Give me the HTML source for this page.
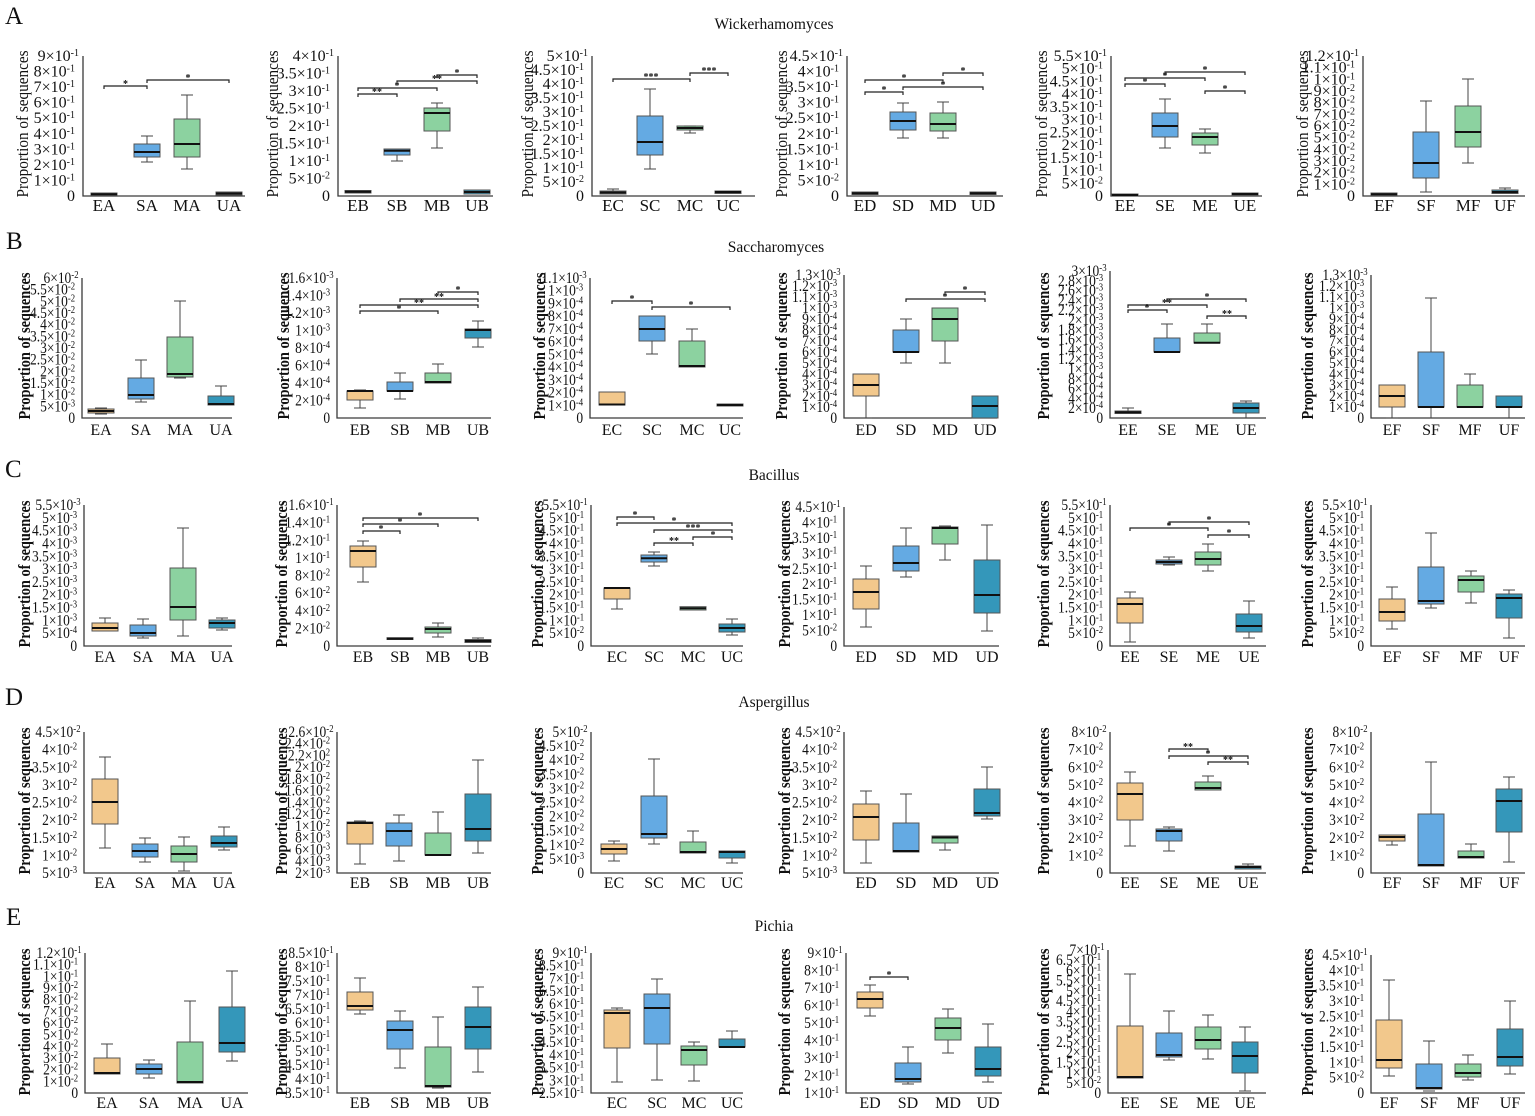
<!DOCTYPE html>
<html><head><meta charset="utf-8"><style>
html,body{margin:0;padding:0;background:#fff;}
svg{display:block;}
text{font-family:"Liberation Serif",serif;fill:#111;}
.tk{font-size:16px;text-anchor:end;}
g[transform*="scale"] .tk{font-size:15.5px;}
.e{font-size:10px;}
.cl{font-size:17px;text-anchor:middle;}
.cl2{font-size:16px;text-anchor:middle;}
.yl{font-size:17px;text-anchor:middle;}
.yb{font-size:16.5px;font-weight:bold;text-anchor:middle;}
.ttl{font-size:15.5px;text-anchor:middle;}
.lt{font-size:25px;}
.ax{fill:none;stroke:#3a3a3a;stroke-width:1.3;}
.wh{fill:none;stroke:#444;stroke-width:1;}
.md{fill:none;stroke:#111;stroke-width:2;}
.br{fill:none;stroke:#222;stroke-width:1.2;}
.st{font-size:10px;font-weight:bold;text-anchor:middle;}
.bE{fill:#F2C88C;stroke:#555;stroke-width:1;}
.bS{fill:#64AAE3;stroke:#555;stroke-width:1;}
.bM{fill:#8CD2A0;stroke:#555;stroke-width:1;}
.bU{fill:#3497BA;stroke:#555;stroke-width:1;}
</style></head><body>
<svg width="1535" height="1116" viewBox="0 0 1535 1116" xmlns="http://www.w3.org/2000/svg">
<rect width="1535" height="1116" fill="#fff"/>

<!-- Row letters and titles -->
<text class="lt" x="5" y="24">A</text>
<text class="lt" x="6" y="249">B</text>
<text class="lt" x="5" y="477">C</text>
<text class="lt" x="5" y="705">D</text>
<text class="lt" x="6" y="925">E</text>
<text class="ttl" x="774" y="29">Wickerhamomyces</text>
<text class="ttl" x="776" y="252">Saccharomyces</text>
<text class="ttl" x="774" y="480">Bacillus</text>
<text class="ttl" x="774" y="707">Aspergillus</text>
<text class="ttl" x="774" y="931">Pichia</text>

<!-- ================= ROW A ================= -->
<text class="yl" transform="translate(28,124) rotate(-90)" textLength="147" lengthAdjust="spacingAndGlyphs">Proportion of sequences</text>
<text class="yl" transform="translate(278,124) rotate(-90)" textLength="147" lengthAdjust="spacingAndGlyphs">Proportion of sequences</text>
<text class="yl" transform="translate(533,124) rotate(-90)" textLength="147" lengthAdjust="spacingAndGlyphs">Proportion of sequences</text>
<text class="yl" transform="translate(787,124) rotate(-90)" textLength="147" lengthAdjust="spacingAndGlyphs">Proportion of sequences</text>
<text class="yl" transform="translate(1047,124) rotate(-90)" textLength="147" lengthAdjust="spacingAndGlyphs">Proportion of sequences</text>
<text class="yl" transform="translate(1308,124) rotate(-90)" textLength="147" lengthAdjust="spacingAndGlyphs">Proportion of sequences</text>

<!-- A1 -->
<g transform="translate(83,0)"><text class="tk">
<tspan x="-4" y="201">0</tspan>
<tspan x="-4" y="185.4">1×10</tspan><tspan class="e" dy="-5">-1</tspan>
<tspan x="-4" y="169.9">2×10</tspan><tspan class="e" dy="-5">-1</tspan>
<tspan x="-4" y="154.3">3×10</tspan><tspan class="e" dy="-5">-1</tspan>
<tspan x="-4" y="138.8">4×10</tspan><tspan class="e" dy="-5">-1</tspan>
<tspan x="-4" y="123.2">5×10</tspan><tspan class="e" dy="-5">-1</tspan>
<tspan x="-4" y="107.7">6×10</tspan><tspan class="e" dy="-5">-1</tspan>
<tspan x="-4" y="92.1">7×10</tspan><tspan class="e" dy="-5">-1</tspan>
<tspan x="-4" y="76.6">8×10</tspan><tspan class="e" dy="-5">-1</tspan>
<tspan x="-4" y="61">9×10</tspan><tspan class="e" dy="-5">-1</tspan>
</text></g>
<path class="ax" d="M83,56V196H245"/>
<rect class="bE" x="91" y="193" width="26" height="2.5"/>
<rect class="bS" x="134" y="144" width="26" height="13"/>
<rect class="bM" x="174" y="119" width="26" height="38"/>
<rect class="bU" x="216" y="192" width="26" height="3"/>
<path class="wh" d="M147,136V144M147,157V162M141,136H153M141,162H153M187,95V119M187,157V169M181,95H193M181,169H193"/>
<path class="md" d="M91,194.3H117M134,152H160M174,144H200M216,193.5H242"/>
<path class="br" d="M104,89V86H147V89M147,83V80H229V83"/>
<text class="st" x="125.5" y="87">*</text><text class="st" x="188" y="81">*</text>
<text class="cl" x="104" y="211">EA</text><text class="cl" x="147" y="211">SA</text><text class="cl" x="187" y="211">MA</text><text class="cl" x="229" y="211">UA</text>

<!-- A2 -->
<g transform="translate(338,0)"><text class="tk">
<tspan x="-4" y="201">0</tspan>
<tspan x="-4" y="183.5">5×10</tspan><tspan class="e" dy="-5">-2</tspan>
<tspan x="-4" y="166">1×10</tspan><tspan class="e" dy="-5">-1</tspan>
<tspan x="-4" y="148.5">1.5×10</tspan><tspan class="e" dy="-5">-1</tspan>
<tspan x="-4" y="131">2×10</tspan><tspan class="e" dy="-5">-1</tspan>
<tspan x="-4" y="113.5">2.5×10</tspan><tspan class="e" dy="-5">-1</tspan>
<tspan x="-4" y="96">3×10</tspan><tspan class="e" dy="-5">-1</tspan>
<tspan x="-4" y="78.5">3.5×10</tspan><tspan class="e" dy="-5">-1</tspan>
<tspan x="-4" y="61">4×10</tspan><tspan class="e" dy="-5">-1</tspan>
</text></g>
<path class="ax" d="M338,56V196H493"/>
<rect class="bE" x="345" y="190.5" width="26" height="2.5"/>
<rect class="bS" x="384" y="149" width="26" height="6"/>
<rect class="bM" x="424" y="108" width="26" height="23"/>
<rect class="bU" x="464" y="190" width="26" height="4"/>
<path class="wh" d="M397,155V161M391,161H403M437,103V108M437,131V148M431,103H443M431,148H443"/>
<path class="md" d="M345,191.7H371M384,150.7H410M424,113H450M464,192H490"/>
<path class="br" d="M358,97V94H397V97M358,91V88H437V91M397,84V81H477V84M437,78V75H477V78"/>
<text class="st" x="377" y="95">**</text><text class="st" x="397" y="89">*</text><text class="st" x="437" y="82">**</text><text class="st" x="457" y="76">*</text>
<text class="cl" x="358" y="211">EB</text><text class="cl" x="397" y="211">SB</text><text class="cl" x="437" y="211">MB</text><text class="cl" x="477" y="211">UB</text>

<!-- A3 -->
<g transform="translate(592,0)"><text class="tk">
<tspan x="-4" y="201">0</tspan>
<tspan x="-4" y="187">5×10</tspan><tspan class="e" dy="-5">-2</tspan>
<tspan x="-4" y="173">1×10</tspan><tspan class="e" dy="-5">-1</tspan>
<tspan x="-4" y="159">1.5×10</tspan><tspan class="e" dy="-5">-1</tspan>
<tspan x="-4" y="145">2×10</tspan><tspan class="e" dy="-5">-1</tspan>
<tspan x="-4" y="131">2.5×10</tspan><tspan class="e" dy="-5">-1</tspan>
<tspan x="-4" y="117">3×10</tspan><tspan class="e" dy="-5">-1</tspan>
<tspan x="-4" y="103">3.5×10</tspan><tspan class="e" dy="-5">-1</tspan>
<tspan x="-4" y="89">4×10</tspan><tspan class="e" dy="-5">-1</tspan>
<tspan x="-4" y="75">4.5×10</tspan><tspan class="e" dy="-5">-1</tspan>
<tspan x="-4" y="61">5×10</tspan><tspan class="e" dy="-5">-1</tspan>
</text></g>
<path class="ax" d="M592,56V196H755"/>
<rect class="bE" x="600" y="191" width="26" height="3"/>
<rect class="bS" x="637" y="116" width="26" height="39"/>
<rect class="bM" x="677" y="126" width="26" height="4"/>
<rect class="bU" x="715" y="191" width="26" height="2.5"/>
<path class="wh" d="M613,189V191M607,189H619M650,89V116M650,155V169M644,89H656M644,169H656M690,130V133M684,133H696M684,126H696"/>
<path class="md" d="M600,192.5H626M637,142H663M677,128H703M715,192H741"/>
<path class="br" d="M613,82V79H690V82M690,76V73H728V76"/>
<text class="st" x="651" y="80">***</text><text class="st" x="709" y="74">***</text>
<text class="cl" x="613" y="211">EC</text><text class="cl" x="650" y="211">SC</text><text class="cl" x="690" y="211">MC</text><text class="cl" x="728" y="211">UC</text>

<!-- A4 -->
<g transform="translate(847,0)"><text class="tk">
<tspan x="-4" y="201">0</tspan>
<tspan x="-4" y="185.4">5×10</tspan><tspan class="e" dy="-5">-2</tspan>
<tspan x="-4" y="169.9">1×10</tspan><tspan class="e" dy="-5">-1</tspan>
<tspan x="-4" y="154.3">1.5×10</tspan><tspan class="e" dy="-5">-1</tspan>
<tspan x="-4" y="138.8">2×10</tspan><tspan class="e" dy="-5">-1</tspan>
<tspan x="-4" y="123.2">2.5×10</tspan><tspan class="e" dy="-5">-1</tspan>
<tspan x="-4" y="107.7">3×10</tspan><tspan class="e" dy="-5">-1</tspan>
<tspan x="-4" y="92.1">3.5×10</tspan><tspan class="e" dy="-5">-1</tspan>
<tspan x="-4" y="76.6">4×10</tspan><tspan class="e" dy="-5">-1</tspan>
<tspan x="-4" y="61">4.5×10</tspan><tspan class="e" dy="-5">-1</tspan>
</text></g>
<path class="ax" d="M847,56V196H1003"/>
<rect class="bE" x="852" y="192" width="26" height="2.5"/>
<rect class="bS" x="890" y="112" width="26" height="18"/>
<rect class="bM" x="930" y="113" width="26" height="18"/>
<rect class="bU" x="970" y="192" width="26" height="2.5"/>
<path class="wh" d="M903,103V112M903,130V138M897,103H909M897,138H909M943,102V113M943,131V138M937,102H949M937,138H949"/>
<path class="md" d="M852,193.3H878M890,121H916M930,124H956M970,193.3H996"/>
<path class="br" d="M865,95V92H903V95M865,83V80H943V83M903,90V87H983V90M943,76V73H983V76"/>
<text class="st" x="884" y="93">*</text><text class="st" x="904" y="81">*</text><text class="st" x="943" y="88">*</text><text class="st" x="963" y="74">*</text>
<text class="cl" x="865" y="211">ED</text><text class="cl" x="903" y="211">SD</text><text class="cl" x="943" y="211">MD</text><text class="cl" x="983" y="211">UD</text>

<!-- A5 -->
<g transform="translate(1111,0)"><text class="tk">
<tspan x="-4" y="201">0</tspan>
<tspan x="-4" y="188.3">5×10</tspan><tspan class="e" dy="-5">-2</tspan>
<tspan x="-4" y="175.5">1×10</tspan><tspan class="e" dy="-5">-1</tspan>
<tspan x="-4" y="162.8">1.5×10</tspan><tspan class="e" dy="-5">-1</tspan>
<tspan x="-4" y="150.1">2×10</tspan><tspan class="e" dy="-5">-1</tspan>
<tspan x="-4" y="137.4">2.5×10</tspan><tspan class="e" dy="-5">-1</tspan>
<tspan x="-4" y="124.6">3×10</tspan><tspan class="e" dy="-5">-1</tspan>
<tspan x="-4" y="111.9">3.5×10</tspan><tspan class="e" dy="-5">-1</tspan>
<tspan x="-4" y="99.2">4×10</tspan><tspan class="e" dy="-5">-1</tspan>
<tspan x="-4" y="86.5">4.5×10</tspan><tspan class="e" dy="-5">-1</tspan>
<tspan x="-4" y="73.7">5×10</tspan><tspan class="e" dy="-5">-1</tspan>
<tspan x="-4" y="61">5.5×10</tspan><tspan class="e" dy="-5">-1</tspan>
</text></g>
<path class="ax" d="M1111,56V196H1262"/>
<rect class="bE" x="1112" y="194" width="26" height="2"/>
<rect class="bS" x="1152" y="113" width="26" height="24"/>
<rect class="bM" x="1192" y="133" width="26" height="12"/>
<rect class="bU" x="1232" y="193" width="26" height="2.5"/>
<path class="wh" d="M1165,99V113M1165,137V148M1159,99H1171M1159,148H1171M1205,129V133M1205,145V153M1199,129H1211M1199,153H1211"/>
<path class="md" d="M1112,195H1138M1152,126H1178M1192,137H1218M1232,194H1258"/>
<path class="br" d="M1125,87V84H1165V87M1125,81V78H1205V81M1165,75V72H1245V75M1205,94V91H1245V94"/>
<text class="st" x="1145" y="85">*</text><text class="st" x="1165" y="79">*</text><text class="st" x="1205" y="73">*</text><text class="st" x="1225" y="92">*</text>
<text class="cl" x="1125" y="211">EE</text><text class="cl" x="1165" y="211">SE</text><text class="cl" x="1205" y="211">ME</text><text class="cl" x="1245" y="211">UE</text>

<!-- A6 -->
<g transform="translate(1363,0)"><text class="tk">
<tspan x="-4" y="201">0</tspan>
<tspan x="-4" y="189.3">1×10</tspan><tspan class="e" dy="-5">-2</tspan>
<tspan x="-4" y="177.7">2×10</tspan><tspan class="e" dy="-5">-2</tspan>
<tspan x="-4" y="166">3×10</tspan><tspan class="e" dy="-5">-2</tspan>
<tspan x="-4" y="154.3">4×10</tspan><tspan class="e" dy="-5">-2</tspan>
<tspan x="-4" y="142.7">5×10</tspan><tspan class="e" dy="-5">-2</tspan>
<tspan x="-4" y="131">6×10</tspan><tspan class="e" dy="-5">-2</tspan>
<tspan x="-4" y="119.3">7×10</tspan><tspan class="e" dy="-5">-2</tspan>
<tspan x="-4" y="107.7">8×10</tspan><tspan class="e" dy="-5">-2</tspan>
<tspan x="-4" y="96">9×10</tspan><tspan class="e" dy="-5">-2</tspan>
<tspan x="-4" y="84.3">1×10</tspan><tspan class="e" dy="-5">-1</tspan>
<tspan x="-4" y="72.7">1.1×10</tspan><tspan class="e" dy="-5">-1</tspan>
<tspan x="-4" y="61">1.2×10</tspan><tspan class="e" dy="-5">-1</tspan>
</text></g>
<path class="ax" d="M1363,56V196H1525"/>
<rect class="bE" x="1371" y="193" width="26" height="2.5"/>
<rect class="bS" x="1413" y="132" width="26" height="46"/>
<rect class="bM" x="1455" y="106" width="26" height="41"/>
<rect class="bU" x="1492" y="190" width="26" height="3.5"/>
<path class="wh" d="M1426,101V132M1426,178V192M1420,101H1432M1420,192H1432M1468,79V106M1468,147V163M1462,79H1474M1462,163H1474M1505,188V190M1499,188H1511"/>
<path class="md" d="M1371,194.2H1397M1413,163H1439M1455,132H1481M1492,192H1518"/>
<text class="cl" x="1384" y="211">EF</text><text class="cl" x="1426" y="211">SF</text><text class="cl" x="1468" y="211">MF</text><text class="cl" x="1505" y="211">UF</text>

<!-- ================= ROW B ================= -->
<text class="yb" transform="translate(30,346) rotate(-90)" textLength="147" lengthAdjust="spacingAndGlyphs">Proportion of sequences</text>
<text class="yb" transform="translate(289,346) rotate(-90)" textLength="147" lengthAdjust="spacingAndGlyphs">Proportion of sequences</text>
<text class="yb" transform="translate(545,346) rotate(-90)" textLength="147" lengthAdjust="spacingAndGlyphs">Proportion of sequences</text>
<text class="yb" transform="translate(787,346) rotate(-90)" textLength="147" lengthAdjust="spacingAndGlyphs">Proportion of sequences</text>
<text class="yb" transform="translate(1049,346) rotate(-90)" textLength="147" lengthAdjust="spacingAndGlyphs">Proportion of sequences</text>
<text class="yb" transform="translate(1313,346) rotate(-90)" textLength="147" lengthAdjust="spacingAndGlyphs">Proportion of sequences</text>

<!-- B1 -->
<g transform="translate(82,0) scale(.87,1)"><text class="tk">
<tspan x="-4" y="423">0</tspan>
<tspan x="-4" y="411.3">5×10</tspan><tspan class="e" dy="-5">-3</tspan>
<tspan x="-4" y="399.7">1×10</tspan><tspan class="e" dy="-5">-2</tspan>
<tspan x="-4" y="388">1.5×10</tspan><tspan class="e" dy="-5">-2</tspan>
<tspan x="-4" y="376.3">2×10</tspan><tspan class="e" dy="-5">-2</tspan>
<tspan x="-4" y="364.7">2.5×10</tspan><tspan class="e" dy="-5">-2</tspan>
<tspan x="-4" y="353">3×10</tspan><tspan class="e" dy="-5">-2</tspan>
<tspan x="-4" y="341.3">3.5×10</tspan><tspan class="e" dy="-5">-2</tspan>
<tspan x="-4" y="329.7">4×10</tspan><tspan class="e" dy="-5">-2</tspan>
<tspan x="-4" y="318">4.5×10</tspan><tspan class="e" dy="-5">-2</tspan>
<tspan x="-4" y="306.3">5×10</tspan><tspan class="e" dy="-5">-2</tspan>
<tspan x="-4" y="294.7">5.5×10</tspan><tspan class="e" dy="-5">-2</tspan>
<tspan x="-4" y="283">6×10</tspan><tspan class="e" dy="-5">-2</tspan>
</text></g>
<path class="ax" d="M82,278V418H232"/>
<rect class="bE" x="88" y="409" width="26" height="4"/>
<rect class="bS" x="128" y="378" width="26" height="21"/>
<rect class="bM" x="167" y="337" width="26" height="40"/>
<rect class="bU" x="208" y="396" width="26" height="9"/>
<path class="wh" d="M101,408V409M101,413V414M95,408H107M95,414H107M141,360V378M141,399V402M135,360H147M135,402H147M180,301V337M174,301H186M174,378H186M180,377V378M221,386V396M215,386H227"/>
<path class="md" d="M88,411H114M128,395H154M167,374H193M208,404H234"/>
<text class="cl2" x="101" y="435">EA</text><text class="cl2" x="141" y="435">SA</text><text class="cl2" x="180" y="435">MA</text><text class="cl2" x="221" y="435">UA</text>

<!-- B2 -->
<g transform="translate(337,0) scale(.87,1)"><text class="tk">
<tspan x="-4" y="423">0</tspan>
<tspan x="-4" y="405.5">2×10</tspan><tspan class="e" dy="-5">-4</tspan>
<tspan x="-4" y="388">4×10</tspan><tspan class="e" dy="-5">-4</tspan>
<tspan x="-4" y="370.5">6×10</tspan><tspan class="e" dy="-5">-4</tspan>
<tspan x="-4" y="353">8×10</tspan><tspan class="e" dy="-5">-4</tspan>
<tspan x="-4" y="335.5">1×10</tspan><tspan class="e" dy="-5">-3</tspan>
<tspan x="-4" y="318">1.2×10</tspan><tspan class="e" dy="-5">-3</tspan>
<tspan x="-4" y="300.5">1.4×10</tspan><tspan class="e" dy="-5">-3</tspan>
<tspan x="-4" y="283">1.6×10</tspan><tspan class="e" dy="-5">-3</tspan>
</text></g>
<path class="ax" d="M337,278V418H491"/>
<rect class="bE" x="347" y="391" width="26" height="9"/>
<rect class="bS" x="387" y="382" width="26" height="9"/>
<rect class="bM" x="425" y="373" width="26" height="10"/>
<rect class="bU" x="465" y="329" width="26" height="9"/>
<path class="wh" d="M360,400V408M354,408H366M354,390H366M400,373V382M394,373H406M400,391V399M394,399H406M438,364V373M432,364H444M478,321V329M478,338V347M472,321H484M472,347H484"/>
<path class="md" d="M347,391H373M387,391H413M425,382H451M465,330H491"/>
<path class="br" d="M360,314V311H438V314M360,308V305H478V308M400,302V299H478V302M438,295V292H478V295"/>
<text class="st" x="399" y="312">*</text><text class="st" x="419" y="306">**</text><text class="st" x="439" y="300">**</text><text class="st" x="458" y="293">*</text>
<text class="cl2" x="360" y="435">EB</text><text class="cl2" x="400" y="435">SB</text><text class="cl2" x="438" y="435">MB</text><text class="cl2" x="478" y="435">UB</text>

<!-- B3 -->
<g transform="translate(590,0) scale(.87,1)"><text class="tk">
<tspan x="-4" y="423">0</tspan>
<tspan x="-4" y="410.3">1×10</tspan><tspan class="e" dy="-5">-4</tspan>
<tspan x="-4" y="397.5">2×10</tspan><tspan class="e" dy="-5">-4</tspan>
<tspan x="-4" y="384.8">3×10</tspan><tspan class="e" dy="-5">-4</tspan>
<tspan x="-4" y="372.1">4×10</tspan><tspan class="e" dy="-5">-4</tspan>
<tspan x="-4" y="359.4">5×10</tspan><tspan class="e" dy="-5">-4</tspan>
<tspan x="-4" y="346.6">6×10</tspan><tspan class="e" dy="-5">-4</tspan>
<tspan x="-4" y="333.9">7×10</tspan><tspan class="e" dy="-5">-4</tspan>
<tspan x="-4" y="321.2">8×10</tspan><tspan class="e" dy="-5">-4</tspan>
<tspan x="-4" y="308.5">9×10</tspan><tspan class="e" dy="-5">-4</tspan>
<tspan x="-4" y="295.7">1×10</tspan><tspan class="e" dy="-5">-3</tspan>
<tspan x="-4" y="283">1.1×10</tspan><tspan class="e" dy="-5">-3</tspan>
</text></g>
<path class="ax" d="M590,278V418H743"/>
<rect class="bE" x="599" y="392" width="26" height="13"/>
<rect class="bS" x="639" y="316" width="26" height="25"/>
<rect class="bM" x="679" y="341" width="26" height="26"/>
<rect class="bU" x="717" y="404" width="26" height="2"/>
<path class="wh" d="M652,341V354M646,354H658M692,329V341M686,329H698"/>
<path class="md" d="M599,404.5H625M639,329H665M679,366H705M717,405H743"/>
<path class="br" d="M612,304V301H652V304M652,310V307H730V310"/>
<text class="st" x="632" y="302">*</text><text class="st" x="691" y="308">*</text>
<text class="cl2" x="612" y="435">EC</text><text class="cl2" x="652" y="435">SC</text><text class="cl2" x="692" y="435">MC</text><text class="cl2" x="730" y="435">UC</text>

<!-- B4 -->
<g transform="translate(844,0) scale(.87,1)"><text class="tk">
<tspan x="-4" y="423">0</tspan>
<tspan x="-4" y="412">1×10</tspan><tspan class="e" dy="-5">-4</tspan>
<tspan x="-4" y="401">2×10</tspan><tspan class="e" dy="-5">-4</tspan>
<tspan x="-4" y="390">3×10</tspan><tspan class="e" dy="-5">-4</tspan>
<tspan x="-4" y="379">4×10</tspan><tspan class="e" dy="-5">-4</tspan>
<tspan x="-4" y="368">5×10</tspan><tspan class="e" dy="-5">-4</tspan>
<tspan x="-4" y="357">6×10</tspan><tspan class="e" dy="-5">-4</tspan>
<tspan x="-4" y="346">7×10</tspan><tspan class="e" dy="-5">-4</tspan>
<tspan x="-4" y="335">8×10</tspan><tspan class="e" dy="-5">-4</tspan>
<tspan x="-4" y="324">9×10</tspan><tspan class="e" dy="-5">-4</tspan>
<tspan x="-4" y="313">1×10</tspan><tspan class="e" dy="-5">-3</tspan>
<tspan x="-4" y="302">1.1×10</tspan><tspan class="e" dy="-5">-3</tspan>
<tspan x="-4" y="291">1.2×10</tspan><tspan class="e" dy="-5">-3</tspan>
<tspan x="-4" y="280">1.3×10</tspan><tspan class="e" dy="-5">-3</tspan>
</text></g>
<path class="ax" d="M844,275V418H997"/>
<rect class="bE" x="853" y="374" width="26" height="22"/>
<rect class="bS" x="893" y="330" width="26" height="22"/>
<rect class="bM" x="932" y="308" width="26" height="33"/>
<rect class="bU" x="972" y="396" width="26" height="22"/>
<path class="wh" d="M866,396V418M860,418H872M906,319V330M906,352V363M900,319H912M900,363H912M945,341V363M939,363H951"/>
<path class="md" d="M853,385H879M893,352H919M932,319H958M972,406H998"/>
<path class="br" d="M906,302V299H985V302M945,295V292H985V295"/>
<text class="st" x="945" y="300">*</text><text class="st" x="965" y="293">*</text>
<text class="cl2" x="866" y="435">ED</text><text class="cl2" x="906" y="435">SD</text><text class="cl2" x="945" y="435">MD</text><text class="cl2" x="985" y="435">UD</text>

<!-- B5 -->
<g transform="translate(1110,0) scale(.87,1)"><text class="tk">
<tspan x="-4" y="423">0</tspan>
<tspan x="-4" y="413.2">2×10</tspan><tspan class="e" dy="-5">-4</tspan>
<tspan x="-4" y="403.4">4×10</tspan><tspan class="e" dy="-5">-4</tspan>
<tspan x="-4" y="393.6">6×10</tspan><tspan class="e" dy="-5">-4</tspan>
<tspan x="-4" y="383.8">8×10</tspan><tspan class="e" dy="-5">-4</tspan>
<tspan x="-4" y="374">1×10</tspan><tspan class="e" dy="-5">-3</tspan>
<tspan x="-4" y="364.2">1.2×10</tspan><tspan class="e" dy="-5">-3</tspan>
<tspan x="-4" y="354.4">1.4×10</tspan><tspan class="e" dy="-5">-3</tspan>
<tspan x="-4" y="344.6">1.6×10</tspan><tspan class="e" dy="-5">-3</tspan>
<tspan x="-4" y="334.8">1.8×10</tspan><tspan class="e" dy="-5">-3</tspan>
<tspan x="-4" y="325">2×10</tspan><tspan class="e" dy="-5">-3</tspan>
<tspan x="-4" y="315.2">2.2×10</tspan><tspan class="e" dy="-5">-3</tspan>
<tspan x="-4" y="305.4">2.4×10</tspan><tspan class="e" dy="-5">-3</tspan>
<tspan x="-4" y="295.6">2.6×10</tspan><tspan class="e" dy="-5">-3</tspan>
<tspan x="-4" y="285.8">2.8×10</tspan><tspan class="e" dy="-5">-3</tspan>
<tspan x="-4" y="276">3×10</tspan><tspan class="e" dy="-5">-3</tspan>
</text></g>
<path class="ax" d="M1110,271V418H1266"/>
<rect class="bE" x="1115" y="411" width="26" height="2.5"/>
<rect class="bS" x="1154" y="338" width="26" height="14"/>
<rect class="bM" x="1194" y="333" width="26" height="10"/>
<rect class="bU" x="1233" y="403" width="26" height="10"/>
<path class="wh" d="M1128,408V411M1122,408H1134M1167,324V338M1161,324H1173M1207,324V333M1201,324H1213M1246,401V403M1246,413V418M1240,401H1252"/>
<path class="md" d="M1115,412.3H1141M1154,352H1180M1194,342.7H1220M1233,408H1259"/>
<path class="br" d="M1128,313V310H1167V313M1128,308V305H1207V308M1167,302V299H1246V302M1207,319V316H1246V319"/>
<text class="st" x="1147" y="311">*</text><text class="st" x="1167" y="306">**</text><text class="st" x="1207" y="300">*</text><text class="st" x="1227" y="317">**</text>
<text class="cl2" x="1128" y="435">EE</text><text class="cl2" x="1167" y="435">SE</text><text class="cl2" x="1207" y="435">ME</text><text class="cl2" x="1246" y="435">UE</text>

<!-- B6 -->
<g transform="translate(1371,0) scale(.87,1)"><text class="tk">
<tspan x="-4" y="423">0</tspan>
<tspan x="-4" y="412">1×10</tspan><tspan class="e" dy="-5">-4</tspan>
<tspan x="-4" y="401">2×10</tspan><tspan class="e" dy="-5">-4</tspan>
<tspan x="-4" y="390">3×10</tspan><tspan class="e" dy="-5">-4</tspan>
<tspan x="-4" y="379">4×10</tspan><tspan class="e" dy="-5">-4</tspan>
<tspan x="-4" y="368">5×10</tspan><tspan class="e" dy="-5">-4</tspan>
<tspan x="-4" y="357">6×10</tspan><tspan class="e" dy="-5">-4</tspan>
<tspan x="-4" y="346">7×10</tspan><tspan class="e" dy="-5">-4</tspan>
<tspan x="-4" y="335">8×10</tspan><tspan class="e" dy="-5">-4</tspan>
<tspan x="-4" y="324">9×10</tspan><tspan class="e" dy="-5">-4</tspan>
<tspan x="-4" y="313">1×10</tspan><tspan class="e" dy="-5">-3</tspan>
<tspan x="-4" y="302">1.1×10</tspan><tspan class="e" dy="-5">-3</tspan>
<tspan x="-4" y="291">1.2×10</tspan><tspan class="e" dy="-5">-3</tspan>
<tspan x="-4" y="280">1.3×10</tspan><tspan class="e" dy="-5">-3</tspan>
</text></g>
<path class="ax" d="M1371,275V418H1525"/>
<rect class="bE" x="1379" y="385" width="26" height="22"/>
<rect class="bS" x="1418" y="352" width="26" height="55"/>
<rect class="bM" x="1457" y="385" width="26" height="22"/>
<rect class="bU" x="1496" y="396" width="26" height="11"/>
<path class="wh" d="M1392,407V418M1386,418H1398M1431,298V352M1425,298H1437M1431,407V418M1470,374V385M1464,374H1476M1509,407V418"/>
<path class="md" d="M1379,396H1405M1418,407H1444M1457,407H1483M1496,407H1522"/>
<text class="cl2" x="1392" y="435">EF</text><text class="cl2" x="1431" y="435">SF</text><text class="cl2" x="1470" y="435">MF</text><text class="cl2" x="1509" y="435">UF</text>

<!-- ================= ROW C ================= -->
<text class="yb" transform="translate(30,574) rotate(-90)" textLength="147" lengthAdjust="spacingAndGlyphs">Proportion of sequences</text>
<text class="yb" transform="translate(287,574) rotate(-90)" textLength="147" lengthAdjust="spacingAndGlyphs">Proportion of sequences</text>
<text class="yb" transform="translate(543,574) rotate(-90)" textLength="147" lengthAdjust="spacingAndGlyphs">Proportion of sequences</text>
<text class="yb" transform="translate(790,574) rotate(-90)" textLength="147" lengthAdjust="spacingAndGlyphs">Proportion of sequences</text>
<text class="yb" transform="translate(1049,574) rotate(-90)" textLength="147" lengthAdjust="spacingAndGlyphs">Proportion of sequences</text>
<text class="yb" transform="translate(1313,574) rotate(-90)" textLength="147" lengthAdjust="spacingAndGlyphs">Proportion of sequences</text>

<!-- C1 -->
<g transform="translate(84,0) scale(.87,1)"><text class="tk">
<tspan x="-4" y="651">0</tspan>
<tspan x="-4" y="638.2">5×10</tspan><tspan class="e" dy="-5">-4</tspan>
<tspan x="-4" y="625.4">1×10</tspan><tspan class="e" dy="-5">-3</tspan>
<tspan x="-4" y="612.5">1.5×10</tspan><tspan class="e" dy="-5">-3</tspan>
<tspan x="-4" y="599.7">2×10</tspan><tspan class="e" dy="-5">-3</tspan>
<tspan x="-4" y="586.9">2.5×10</tspan><tspan class="e" dy="-5">-3</tspan>
<tspan x="-4" y="574.1">3×10</tspan><tspan class="e" dy="-5">-3</tspan>
<tspan x="-4" y="561.3">3.5×10</tspan><tspan class="e" dy="-5">-3</tspan>
<tspan x="-4" y="548.5">4×10</tspan><tspan class="e" dy="-5">-3</tspan>
<tspan x="-4" y="535.6">4.5×10</tspan><tspan class="e" dy="-5">-3</tspan>
<tspan x="-4" y="522.8">5×10</tspan><tspan class="e" dy="-5">-3</tspan>
<tspan x="-4" y="510">5.5×10</tspan><tspan class="e" dy="-5">-3</tspan>
</text></g>
<path class="ax" d="M84,505V646H232"/>
<rect class="bE" x="92" y="623" width="26" height="8"/>
<rect class="bS" x="130" y="625" width="26" height="11"/>
<rect class="bM" x="170" y="568" width="26" height="52"/>
<rect class="bU" x="209" y="620" width="26" height="8"/>
<path class="wh" d="M105,618V623M99,618H111M143,619V625M143,636V638M137,619H149M137,638H149M183,528V568M183,620V636M177,528H189M177,636H189M222,618V620M222,628V630M216,618H228M216,630H228"/>
<path class="md" d="M92,628H118M130,633H156M170,607H196M209,623H235"/>
<text class="cl2" x="105" y="662">EA</text><text class="cl2" x="143" y="662">SA</text><text class="cl2" x="183" y="662">MA</text><text class="cl2" x="222" y="662">UA</text>

<!-- C2 -->
<g transform="translate(337,0) scale(.87,1)"><text class="tk">
<tspan x="-4" y="651">0</tspan>
<tspan x="-4" y="633.4">2×10</tspan><tspan class="e" dy="-5">-2</tspan>
<tspan x="-4" y="615.8">4×10</tspan><tspan class="e" dy="-5">-2</tspan>
<tspan x="-4" y="598.1">6×10</tspan><tspan class="e" dy="-5">-2</tspan>
<tspan x="-4" y="580.5">8×10</tspan><tspan class="e" dy="-5">-2</tspan>
<tspan x="-4" y="562.9">1×10</tspan><tspan class="e" dy="-5">-1</tspan>
<tspan x="-4" y="545.3">1.2×10</tspan><tspan class="e" dy="-5">-1</tspan>
<tspan x="-4" y="527.6">1.4×10</tspan><tspan class="e" dy="-5">-1</tspan>
<tspan x="-4" y="510">1.6×10</tspan><tspan class="e" dy="-5">-1</tspan>
</text></g>
<path class="ax" d="M337,505V646H491"/>
<rect class="bE" x="350" y="546" width="26" height="21"/>
<rect class="bS" x="387" y="637.7" width="26" height="1.8"/>
<rect class="bM" x="425" y="627" width="26" height="6"/>
<rect class="bU" x="465" y="639.5" width="26" height="3"/>
<path class="wh" d="M363,541V546M363,567V582M357,541H369M357,582H369M438,623V627M438,633V637M432,623H444M432,637H444M478,638V639.5M472,638H484"/>
<path class="md" d="M350,551H376M387,638.7H413M425,629H451M465,641H491"/>
<path class="br" d="M363,534V531H400V534M363,527V524H438V527M363,521V518H478V521"/>
<text class="st" x="381" y="532">*</text><text class="st" x="400" y="525">*</text><text class="st" x="420" y="519">*</text>
<text class="cl2" x="363" y="662">EB</text><text class="cl2" x="400" y="662">SB</text><text class="cl2" x="438" y="662">MB</text><text class="cl2" x="478" y="662">UB</text>

<!-- C3 -->
<g transform="translate(591,0) scale(.87,1)"><text class="tk">
<tspan x="-4" y="651">0</tspan>
<tspan x="-4" y="638.2">5×10</tspan><tspan class="e" dy="-5">-2</tspan>
<tspan x="-4" y="625.4">1×10</tspan><tspan class="e" dy="-5">-1</tspan>
<tspan x="-4" y="612.5">1.5×10</tspan><tspan class="e" dy="-5">-1</tspan>
<tspan x="-4" y="599.7">2×10</tspan><tspan class="e" dy="-5">-1</tspan>
<tspan x="-4" y="586.9">2.5×10</tspan><tspan class="e" dy="-5">-1</tspan>
<tspan x="-4" y="574.1">3×10</tspan><tspan class="e" dy="-5">-1</tspan>
<tspan x="-4" y="561.3">3.5×10</tspan><tspan class="e" dy="-5">-1</tspan>
<tspan x="-4" y="548.5">4×10</tspan><tspan class="e" dy="-5">-1</tspan>
<tspan x="-4" y="535.6">4.5×10</tspan><tspan class="e" dy="-5">-1</tspan>
<tspan x="-4" y="522.8">5×10</tspan><tspan class="e" dy="-5">-1</tspan>
<tspan x="-4" y="510">5.5×10</tspan><tspan class="e" dy="-5">-1</tspan>
</text></g>
<path class="ax" d="M591,505V646H743"/>
<rect class="bE" x="604" y="588" width="26" height="11"/>
<rect class="bS" x="641" y="555" width="26" height="7"/>
<rect class="bM" x="680" y="606.7" width="26" height="3.3"/>
<rect class="bU" x="719" y="624" width="26" height="8"/>
<path class="wh" d="M617,599V609M611,609H623M654,552V555M654,562V566M648,552H660M648,566H660M732,619V624M732,632V635M726,619H738M726,635H738"/>
<path class="md" d="M604,588H630M641,558.3H667M680,608.3H706M719,628H745"/>
<path class="br" d="M617,520V517H654V520M617,526V523H732V526M654,533V530H732V533M693,540V537H732V540M654,546V543H693V546"/>
<text class="st" x="635" y="518">*</text><text class="st" x="674" y="524">*</text><text class="st" x="693" y="531">***</text><text class="st" x="713" y="538">*</text><text class="st" x="674" y="544">**</text>
<text class="cl2" x="617" y="662">EC</text><text class="cl2" x="654" y="662">SC</text><text class="cl2" x="693" y="662">MC</text><text class="cl2" x="732" y="662">UC</text>

<!-- C4 -->
<g transform="translate(844,0) scale(.87,1)"><text class="tk">
<tspan x="-4" y="651">0</tspan>
<tspan x="-4" y="635.6">5×10</tspan><tspan class="e" dy="-5">-2</tspan>
<tspan x="-4" y="620.1">1×10</tspan><tspan class="e" dy="-5">-1</tspan>
<tspan x="-4" y="604.7">1.5×10</tspan><tspan class="e" dy="-5">-1</tspan>
<tspan x="-4" y="589.2">2×10</tspan><tspan class="e" dy="-5">-1</tspan>
<tspan x="-4" y="573.8">2.5×10</tspan><tspan class="e" dy="-5">-1</tspan>
<tspan x="-4" y="558.3">3×10</tspan><tspan class="e" dy="-5">-1</tspan>
<tspan x="-4" y="542.9">3.5×10</tspan><tspan class="e" dy="-5">-1</tspan>
<tspan x="-4" y="527.4">4×10</tspan><tspan class="e" dy="-5">-1</tspan>
<tspan x="-4" y="512">4.5×10</tspan><tspan class="e" dy="-5">-1</tspan>
</text></g>
<path class="ax" d="M844,507V646H999"/>
<rect class="bE" x="853" y="579" width="26" height="30"/>
<rect class="bS" x="893" y="546" width="26" height="25"/>
<rect class="bM" x="932" y="527" width="26" height="17"/>
<rect class="bU" x="974" y="560" width="26" height="53"/>
<path class="wh" d="M866,566V579M866,609V627M860,566H872M860,627H872M906,528V546M906,571V577M900,528H912M900,577H912M945,544V560M939,560H951M939,526H951M987,525V560M987,613V631M981,525H993M981,631H993"/>
<path class="md" d="M853,592H879M893,563H919M932,528H958M974,595H1000"/>
<text class="cl2" x="866" y="662">ED</text><text class="cl2" x="906" y="662">SD</text><text class="cl2" x="945" y="662">MD</text><text class="cl2" x="987" y="662">UD</text>

<!-- C5 -->
<g transform="translate(1110,0) scale(.87,1)"><text class="tk">
<tspan x="-4" y="651">0</tspan>
<tspan x="-4" y="638.2">5×10</tspan><tspan class="e" dy="-5">-2</tspan>
<tspan x="-4" y="625.4">1×10</tspan><tspan class="e" dy="-5">-1</tspan>
<tspan x="-4" y="612.5">1.5×10</tspan><tspan class="e" dy="-5">-1</tspan>
<tspan x="-4" y="599.7">2×10</tspan><tspan class="e" dy="-5">-1</tspan>
<tspan x="-4" y="586.9">2.5×10</tspan><tspan class="e" dy="-5">-1</tspan>
<tspan x="-4" y="574.1">3×10</tspan><tspan class="e" dy="-5">-1</tspan>
<tspan x="-4" y="561.3">3.5×10</tspan><tspan class="e" dy="-5">-1</tspan>
<tspan x="-4" y="548.5">4×10</tspan><tspan class="e" dy="-5">-1</tspan>
<tspan x="-4" y="535.6">4.5×10</tspan><tspan class="e" dy="-5">-1</tspan>
<tspan x="-4" y="522.8">5×10</tspan><tspan class="e" dy="-5">-1</tspan>
<tspan x="-4" y="510">5.5×10</tspan><tspan class="e" dy="-5">-1</tspan>
</text></g>
<path class="ax" d="M1110,505V646H1266"/>
<rect class="bE" x="1117" y="598" width="26" height="25"/>
<rect class="bS" x="1156" y="560" width="26" height="4"/>
<rect class="bM" x="1195" y="552" width="26" height="13"/>
<rect class="bU" x="1236" y="614" width="26" height="18"/>
<path class="wh" d="M1130,592V598M1130,623V642M1124,592H1136M1124,642H1136M1169,557V560M1169,564V565M1163,557H1175M1163,565H1175M1208,544V552M1208,565V571M1202,544H1214M1202,571H1214M1249,601V614M1249,632V638M1243,601H1255M1243,638H1255"/>
<path class="md" d="M1117,604H1143M1156,562H1182M1195,559H1221M1236,626H1262"/>
<path class="br" d="M1130,531V528H1208V531M1169,525V522H1249V525M1208,538V535H1249V538"/>
<text class="st" x="1169" y="529">*</text><text class="st" x="1209" y="523">*</text><text class="st" x="1229" y="536">*</text>
<text class="cl2" x="1130" y="662">EE</text><text class="cl2" x="1169" y="662">SE</text><text class="cl2" x="1208" y="662">ME</text><text class="cl2" x="1249" y="662">UE</text>

<!-- C6 -->
<g transform="translate(1371,0) scale(.87,1)"><text class="tk">
<tspan x="-4" y="651">0</tspan>
<tspan x="-4" y="638.2">5×10</tspan><tspan class="e" dy="-5">-2</tspan>
<tspan x="-4" y="625.4">1×10</tspan><tspan class="e" dy="-5">-1</tspan>
<tspan x="-4" y="612.5">1.5×10</tspan><tspan class="e" dy="-5">-1</tspan>
<tspan x="-4" y="599.7">2×10</tspan><tspan class="e" dy="-5">-1</tspan>
<tspan x="-4" y="586.9">2.5×10</tspan><tspan class="e" dy="-5">-1</tspan>
<tspan x="-4" y="574.1">3×10</tspan><tspan class="e" dy="-5">-1</tspan>
<tspan x="-4" y="561.3">3.5×10</tspan><tspan class="e" dy="-5">-1</tspan>
<tspan x="-4" y="548.5">4×10</tspan><tspan class="e" dy="-5">-1</tspan>
<tspan x="-4" y="535.6">4.5×10</tspan><tspan class="e" dy="-5">-1</tspan>
<tspan x="-4" y="522.8">5×10</tspan><tspan class="e" dy="-5">-1</tspan>
<tspan x="-4" y="510">5.5×10</tspan><tspan class="e" dy="-5">-1</tspan>
</text></g>
<path class="ax" d="M1371,505V646H1525"/>
<rect class="bE" x="1379" y="599" width="26" height="22"/>
<rect class="bS" x="1418" y="567" width="26" height="37"/>
<rect class="bM" x="1458" y="576" width="26" height="16"/>
<rect class="bU" x="1496" y="594" width="26" height="24"/>
<path class="wh" d="M1392,587V599M1392,621V629M1386,587H1398M1386,629H1398M1431,533V567M1431,604V608M1425,533H1437M1425,608H1437M1471,571V576M1471,592V603M1465,571H1477M1465,603H1477M1509,590V594M1509,618V638M1503,590H1515M1503,638H1515"/>
<path class="md" d="M1379,612H1405M1418,601H1444M1458,580H1484M1496,598H1522"/>
<text class="cl2" x="1392" y="662">EF</text><text class="cl2" x="1431" y="662">SF</text><text class="cl2" x="1471" y="662">MF</text><text class="cl2" x="1509" y="662">UF</text>

<!-- ================= ROW D ================= -->
<text class="yb" transform="translate(30,801) rotate(-90)" textLength="147" lengthAdjust="spacingAndGlyphs">Proportion of sequences</text>
<text class="yb" transform="translate(287,801) rotate(-90)" textLength="147" lengthAdjust="spacingAndGlyphs">Proportion of sequences</text>
<text class="yb" transform="translate(543,801) rotate(-90)" textLength="147" lengthAdjust="spacingAndGlyphs">Proportion of sequences</text>
<text class="yb" transform="translate(790,801) rotate(-90)" textLength="147" lengthAdjust="spacingAndGlyphs">Proportion of sequences</text>
<text class="yb" transform="translate(1049,801) rotate(-90)" textLength="147" lengthAdjust="spacingAndGlyphs">Proportion of sequences</text>
<text class="yb" transform="translate(1313,801) rotate(-90)" textLength="147" lengthAdjust="spacingAndGlyphs">Proportion of sequences</text>

<!-- D1 -->
<g transform="translate(84,0) scale(.87,1)"><text class="tk">
<tspan x="-4" y="878">5×10</tspan><tspan class="e" dy="-5">-3</tspan>
<tspan x="-4" y="860.4">1×10</tspan><tspan class="e" dy="-5">-2</tspan>
<tspan x="-4" y="842.8">1.5×10</tspan><tspan class="e" dy="-5">-2</tspan>
<tspan x="-4" y="825.1">2×10</tspan><tspan class="e" dy="-5">-2</tspan>
<tspan x="-4" y="807.5">2.5×10</tspan><tspan class="e" dy="-5">-2</tspan>
<tspan x="-4" y="789.9">3×10</tspan><tspan class="e" dy="-5">-2</tspan>
<tspan x="-4" y="772.3">3.5×10</tspan><tspan class="e" dy="-5">-2</tspan>
<tspan x="-4" y="754.6">4×10</tspan><tspan class="e" dy="-5">-2</tspan>
<tspan x="-4" y="737">4.5×10</tspan><tspan class="e" dy="-5">-2</tspan>
</text></g>
<path class="ax" d="M84,732V873H232"/>
<rect class="bE" x="92" y="779" width="26" height="45"/>
<rect class="bS" x="132" y="844" width="26" height="13"/>
<rect class="bM" x="171" y="846" width="26" height="16"/>
<rect class="bU" x="211" y="836" width="26" height="11"/>
<path class="wh" d="M105,757V779M105,824V848M99,757H111M99,848H111M145,838V844M145,857V862M139,838H151M139,862H151M184,837V846M184,862V871M178,837H190M178,871H190M224,827V836M224,847V850M218,827H230M218,850H230"/>
<path class="md" d="M92,802H118M132,851H158M171,854H197M211,843H237"/>
<text class="cl2" x="105" y="888">EA</text><text class="cl2" x="145" y="888">SA</text><text class="cl2" x="184" y="888">MA</text><text class="cl2" x="224" y="888">UA</text>

<!-- D2 -->
<g transform="translate(337,0) scale(.87,1)"><text class="tk">
<tspan x="-4" y="878">2×10</tspan><tspan class="e" dy="-5">-3</tspan>
<tspan x="-4" y="866.25">4×10</tspan><tspan class="e" dy="-5">-3</tspan>
<tspan x="-4" y="854.5">6×10</tspan><tspan class="e" dy="-5">-3</tspan>
<tspan x="-4" y="842.75">8×10</tspan><tspan class="e" dy="-5">-3</tspan>
<tspan x="-4" y="831">1×10</tspan><tspan class="e" dy="-5">-2</tspan>
<tspan x="-4" y="819.25">1.2×10</tspan><tspan class="e" dy="-5">-2</tspan>
<tspan x="-4" y="807.5">1.4×10</tspan><tspan class="e" dy="-5">-2</tspan>
<tspan x="-4" y="795.75">1.6×10</tspan><tspan class="e" dy="-5">-2</tspan>
<tspan x="-4" y="784">1.8×10</tspan><tspan class="e" dy="-5">-2</tspan>
<tspan x="-4" y="772.25">2×10</tspan><tspan class="e" dy="-5">-2</tspan>
<tspan x="-4" y="760.5">2.2×10</tspan><tspan class="e" dy="-5">2</tspan>
<tspan x="-4" y="748.75">2.4×10</tspan><tspan class="e" dy="-5">-2</tspan>
<tspan x="-4" y="737">2.6×10</tspan><tspan class="e" dy="-5">-2</tspan>
</text></g>
<path class="ax" d="M337,732V873H491"/>
<rect class="bE" x="347" y="822" width="26" height="22"/>
<rect class="bS" x="386" y="823" width="26" height="23"/>
<rect class="bM" x="425" y="833" width="26" height="22"/>
<rect class="bU" x="465" y="794" width="26" height="47"/>
<path class="wh" d="M360,844V864M354,864H366M354,821H366M399,815V823M399,846V861M393,815H405M393,861H405M438,812V833M432,812H444M478,760V794M478,841V853M472,760H484M472,853H484"/>
<path class="md" d="M347,823H373M386,831H412M425,855H451M465,829H491"/>
<text class="cl2" x="360" y="888">EB</text><text class="cl2" x="399" y="888">SB</text><text class="cl2" x="438" y="888">MB</text><text class="cl2" x="478" y="888">UB</text>

<!-- D3 -->
<g transform="translate(591,0) scale(.87,1)"><text class="tk">
<tspan x="-4" y="878">0</tspan>
<tspan x="-4" y="863.9">5×10</tspan><tspan class="e" dy="-5">-3</tspan>
<tspan x="-4" y="849.8">1×10</tspan><tspan class="e" dy="-5">-2</tspan>
<tspan x="-4" y="835.7">1.5×10</tspan><tspan class="e" dy="-5">-2</tspan>
<tspan x="-4" y="821.6">2×10</tspan><tspan class="e" dy="-5">-2</tspan>
<tspan x="-4" y="807.5">2.5×10</tspan><tspan class="e" dy="-5">-2</tspan>
<tspan x="-4" y="793.4">3×10</tspan><tspan class="e" dy="-5">-2</tspan>
<tspan x="-4" y="779.3">3.5×10</tspan><tspan class="e" dy="-5">-2</tspan>
<tspan x="-4" y="765.2">4×10</tspan><tspan class="e" dy="-5">-2</tspan>
<tspan x="-4" y="751.1">4.5×10</tspan><tspan class="e" dy="-5">-2</tspan>
<tspan x="-4" y="737">5×10</tspan><tspan class="e" dy="-5">-2</tspan>
</text></g>
<path class="ax" d="M591,732V873H743"/>
<rect class="bE" x="601" y="844" width="26" height="10"/>
<rect class="bS" x="641" y="796" width="26" height="42"/>
<rect class="bM" x="680" y="842" width="26" height="11"/>
<rect class="bU" x="719" y="851" width="26" height="7"/>
<path class="wh" d="M614,841V844M614,854V861M608,841H620M608,861H620M654,759V796M654,838V844M648,759H660M648,844H660M693,831V842M687,831H699M732,858V863M726,863H738"/>
<path class="md" d="M601,849H627M641,834H667M680,852H706M719,852H745"/>
<text class="cl2" x="614" y="888">EC</text><text class="cl2" x="654" y="888">SC</text><text class="cl2" x="693" y="888">MC</text><text class="cl2" x="732" y="888">UC</text>

<!-- D4 -->
<g transform="translate(844,0) scale(.87,1)"><text class="tk">
<tspan x="-4" y="878">5×10</tspan><tspan class="e" dy="-5">-3</tspan>
<tspan x="-4" y="860.4">1×10</tspan><tspan class="e" dy="-5">-2</tspan>
<tspan x="-4" y="842.8">1.5×10</tspan><tspan class="e" dy="-5">-2</tspan>
<tspan x="-4" y="825.1">2×10</tspan><tspan class="e" dy="-5">-2</tspan>
<tspan x="-4" y="807.5">2.5×10</tspan><tspan class="e" dy="-5">-2</tspan>
<tspan x="-4" y="789.9">3×10</tspan><tspan class="e" dy="-5">-2</tspan>
<tspan x="-4" y="772.3">3.5×10</tspan><tspan class="e" dy="-5">-2</tspan>
<tspan x="-4" y="754.6">4×10</tspan><tspan class="e" dy="-5">-2</tspan>
<tspan x="-4" y="737">4.5×10</tspan><tspan class="e" dy="-5">-2</tspan>
</text></g>
<path class="ax" d="M844,732V873H999"/>
<rect class="bE" x="853" y="804" width="26" height="36"/>
<rect class="bS" x="893" y="823" width="26" height="29"/>
<rect class="bM" x="932" y="836" width="26" height="7"/>
<rect class="bU" x="974" y="789" width="26" height="27"/>
<path class="wh" d="M866,791V804M866,840V863M860,791H872M860,863H872M906,794V823M900,794H912M945,843V850M939,850H951M987,767V789M987,816V819M981,767H993M981,819H993"/>
<path class="md" d="M853,817H879M893,851H919M932,837.5H958M974,813H1000"/>
<text class="cl2" x="866" y="888">ED</text><text class="cl2" x="906" y="888">SD</text><text class="cl2" x="945" y="888">MD</text><text class="cl2" x="987" y="888">UD</text>

<!-- D5 -->
<g transform="translate(1110,0) scale(.87,1)"><text class="tk">
<tspan x="-4" y="878">0</tspan>
<tspan x="-4" y="860.4">1×10</tspan><tspan class="e" dy="-5">-2</tspan>
<tspan x="-4" y="842.8">2×10</tspan><tspan class="e" dy="-5">-2</tspan>
<tspan x="-4" y="825.1">3×10</tspan><tspan class="e" dy="-5">-2</tspan>
<tspan x="-4" y="807.5">4×10</tspan><tspan class="e" dy="-5">-2</tspan>
<tspan x="-4" y="789.9">5×10</tspan><tspan class="e" dy="-5">-2</tspan>
<tspan x="-4" y="772.3">6×10</tspan><tspan class="e" dy="-5">-2</tspan>
<tspan x="-4" y="754.6">7×10</tspan><tspan class="e" dy="-5">-2</tspan>
<tspan x="-4" y="737">8×10</tspan><tspan class="e" dy="-5">-2</tspan>
</text></g>
<path class="ax" d="M1110,732V873H1266"/>
<rect class="bE" x="1117" y="783" width="26" height="37"/>
<rect class="bS" x="1156" y="829" width="26" height="12"/>
<rect class="bM" x="1195" y="782" width="26" height="8"/>
<rect class="bU" x="1235" y="866" width="26" height="3"/>
<path class="wh" d="M1130,772V783M1130,820V846M1124,772H1136M1124,846H1136M1169,827V829M1169,841V851M1163,827H1175M1163,851H1175M1208,776V782M1202,776H1214M1248,864V866M1242,864H1254"/>
<path class="md" d="M1117,794H1143M1156,831H1182M1195,788H1221M1235,867H1261"/>
<path class="br" d="M1169,752V749H1208V752M1169,759V756H1248V759M1208,765V762H1248V765"/>
<text class="st" x="1188" y="750">**</text><text class="st" x="1208" y="757">*</text><text class="st" x="1228" y="763">**</text>
<text class="cl2" x="1130" y="888">EE</text><text class="cl2" x="1169" y="888">SE</text><text class="cl2" x="1208" y="888">ME</text><text class="cl2" x="1248" y="888">UE</text>

<!-- D6 -->
<g transform="translate(1371,0) scale(.87,1)"><text class="tk">
<tspan x="-4" y="878">0</tspan>
<tspan x="-4" y="860.4">1×10</tspan><tspan class="e" dy="-5">-2</tspan>
<tspan x="-4" y="842.8">2×10</tspan><tspan class="e" dy="-5">-2</tspan>
<tspan x="-4" y="825.1">3×10</tspan><tspan class="e" dy="-5">-2</tspan>
<tspan x="-4" y="807.5">4×10</tspan><tspan class="e" dy="-5">-2</tspan>
<tspan x="-4" y="789.9">5×10</tspan><tspan class="e" dy="-5">-2</tspan>
<tspan x="-4" y="772.3">6×10</tspan><tspan class="e" dy="-5">-2</tspan>
<tspan x="-4" y="754.6">7×10</tspan><tspan class="e" dy="-5">-2</tspan>
<tspan x="-4" y="737">8×10</tspan><tspan class="e" dy="-5">-2</tspan>
</text></g>
<path class="ax" d="M1371,732V873H1525"/>
<rect class="bE" x="1379" y="835" width="26" height="6"/>
<rect class="bS" x="1418" y="814" width="26" height="52"/>
<rect class="bM" x="1458" y="851" width="26" height="7"/>
<rect class="bU" x="1496" y="789" width="26" height="43"/>
<path class="wh" d="M1392,841V845M1386,845H1398M1431,762V814M1425,762H1437M1471,844V851M1465,844H1477M1509,777V789M1509,832V862M1503,777H1515M1503,862H1515"/>
<path class="md" d="M1379,837H1405M1418,865H1444M1458,857H1484M1496,801H1522"/>
<text class="cl2" x="1392" y="888">EF</text><text class="cl2" x="1431" y="888">SF</text><text class="cl2" x="1471" y="888">MF</text><text class="cl2" x="1509" y="888">UF</text>

<!-- ================= ROW E ================= -->
<text class="yb" transform="translate(30,1022) rotate(-90)" textLength="147" lengthAdjust="spacingAndGlyphs">Proportion of sequences</text>
<text class="yb" transform="translate(287,1022) rotate(-90)" textLength="147" lengthAdjust="spacingAndGlyphs">Proportion of sequences</text>
<text class="yb" transform="translate(543,1022) rotate(-90)" textLength="147" lengthAdjust="spacingAndGlyphs">Proportion of sequences</text>
<text class="yb" transform="translate(790,1022) rotate(-90)" textLength="147" lengthAdjust="spacingAndGlyphs">Proportion of sequences</text>
<text class="yb" transform="translate(1049,1022) rotate(-90)" textLength="147" lengthAdjust="spacingAndGlyphs">Proportion of sequences</text>
<text class="yb" transform="translate(1313,1022) rotate(-90)" textLength="147" lengthAdjust="spacingAndGlyphs">Proportion of sequences</text>

<!-- E1 -->
<g transform="translate(85,0) scale(.87,1)"><text class="tk">
<tspan x="-4" y="1098">0</tspan>
<tspan x="-4" y="1086.3">1×10</tspan><tspan class="e" dy="-5">-2</tspan>
<tspan x="-4" y="1074.7">2×10</tspan><tspan class="e" dy="-5">-2</tspan>
<tspan x="-4" y="1063">3×10</tspan><tspan class="e" dy="-5">-2</tspan>
<tspan x="-4" y="1051.3">4×10</tspan><tspan class="e" dy="-5">-2</tspan>
<tspan x="-4" y="1039.7">5×10</tspan><tspan class="e" dy="-5">-2</tspan>
<tspan x="-4" y="1028">6×10</tspan><tspan class="e" dy="-5">-2</tspan>
<tspan x="-4" y="1016.3">7×10</tspan><tspan class="e" dy="-5">-2</tspan>
<tspan x="-4" y="1004.7">8×10</tspan><tspan class="e" dy="-5">-2</tspan>
<tspan x="-4" y="993">9×10</tspan><tspan class="e" dy="-5">-2</tspan>
<tspan x="-4" y="981.3">1×10</tspan><tspan class="e" dy="-5">-1</tspan>
<tspan x="-4" y="969.7">1.1×10</tspan><tspan class="e" dy="-5">-1</tspan>
<tspan x="-4" y="958">1.2×10</tspan><tspan class="e" dy="-5">-1</tspan>
</text></g>
<path class="ax" d="M85,953V1093H248"/>
<rect class="bE" x="94" y="1058" width="26" height="16"/>
<rect class="bS" x="136" y="1064" width="26" height="10"/>
<rect class="bM" x="177" y="1042" width="26" height="41"/>
<rect class="bU" x="219" y="1007" width="26" height="45"/>
<path class="wh" d="M107,1044V1058M101,1044H113M149,1060V1064M149,1074V1078M143,1060H155M143,1078H155M190,1001V1042M184,1001H196M232,971V1007M232,1052V1061M226,971H238M226,1061H238"/>
<path class="md" d="M94,1073H120M136,1069H162M177,1082H203M219,1043H245"/>
<text class="cl2" x="107" y="1108">EA</text><text class="cl2" x="149" y="1108">SA</text><text class="cl2" x="190" y="1108">MA</text><text class="cl2" x="232" y="1108">UA</text>

<!-- E2 -->
<g transform="translate(337,0) scale(.87,1)"><text class="tk">
<tspan x="-4" y="1098">3.5×10</tspan><tspan class="e" dy="-5">-1</tspan>
<tspan x="-4" y="1084">4×10</tspan><tspan class="e" dy="-5">-1</tspan>
<tspan x="-4" y="1070">4.5×10</tspan><tspan class="e" dy="-5">-1</tspan>
<tspan x="-4" y="1056">5×10</tspan><tspan class="e" dy="-5">-1</tspan>
<tspan x="-4" y="1042">5.5×10</tspan><tspan class="e" dy="-5">-1</tspan>
<tspan x="-4" y="1028">6×10</tspan><tspan class="e" dy="-5">-1</tspan>
<tspan x="-4" y="1014">6.5×10</tspan><tspan class="e" dy="-5">-1</tspan>
<tspan x="-4" y="1000">7×10</tspan><tspan class="e" dy="-5">-1</tspan>
<tspan x="-4" y="986">7.5×10</tspan><tspan class="e" dy="-5">-1</tspan>
<tspan x="-4" y="972">8×10</tspan><tspan class="e" dy="-5">-1</tspan>
<tspan x="-4" y="958">8.5×10</tspan><tspan class="e" dy="-5">-1</tspan>
</text></g>
<path class="ax" d="M337,953V1093H491"/>
<rect class="bE" x="347" y="992" width="26" height="18"/>
<rect class="bS" x="387" y="1021" width="26" height="28"/>
<rect class="bM" x="425" y="1047" width="26" height="40"/>
<rect class="bU" x="465" y="1007" width="26" height="42"/>
<path class="wh" d="M360,978V992M360,1010V1014M354,978H366M354,1014H366M400,1011V1021M400,1049V1068M394,1011H406M394,1068H406M438,1017V1047M432,1017H444M432,1088H444M478,987V1007M478,1049V1072M472,987H484M472,1072H484"/>
<path class="md" d="M347,1006H373M387,1030H413M425,1086H451M465,1027H491"/>
<text class="cl2" x="360" y="1108">EB</text><text class="cl2" x="400" y="1108">SB</text><text class="cl2" x="438" y="1108">MB</text><text class="cl2" x="478" y="1108">UB</text>

<!-- E3 -->
<g transform="translate(591,0) scale(.87,1)"><text class="tk">
<tspan x="-4" y="1098">2.5×10</tspan><tspan class="e" dy="-5">-1</tspan>
<tspan x="-4" y="1085.3">3×10</tspan><tspan class="e" dy="-5">-1</tspan>
<tspan x="-4" y="1072.5">3.5×10</tspan><tspan class="e" dy="-5">-1</tspan>
<tspan x="-4" y="1059.8">4×10</tspan><tspan class="e" dy="-5">-1</tspan>
<tspan x="-4" y="1047.1">4.5×10</tspan><tspan class="e" dy="-5">-1</tspan>
<tspan x="-4" y="1034.4">5×10</tspan><tspan class="e" dy="-5">-1</tspan>
<tspan x="-4" y="1021.6">5.5×10</tspan><tspan class="e" dy="-5">-1</tspan>
<tspan x="-4" y="1008.9">6×10</tspan><tspan class="e" dy="-5">-1</tspan>
<tspan x="-4" y="996.2">6.5×10</tspan><tspan class="e" dy="-5">-1</tspan>
<tspan x="-4" y="983.5">7×10</tspan><tspan class="e" dy="-5">-1</tspan>
<tspan x="-4" y="970.7">8.5×10</tspan><tspan class="e" dy="-5">-1</tspan>
<tspan x="-4" y="958">9×10</tspan><tspan class="e" dy="-5">-1</tspan>
</text></g>
<path class="ax" d="M591,953V1093H743"/>
<rect class="bE" x="604" y="1010" width="26" height="38"/>
<rect class="bS" x="644" y="994" width="26" height="50"/>
<rect class="bM" x="681" y="1046" width="26" height="19"/>
<rect class="bU" x="719" y="1039" width="26" height="8"/>
<path class="wh" d="M617,1008V1010M617,1048V1082M611,1008H623M611,1082H623M657,979V994M657,1044V1080M651,979H663M651,1080H663M694,1042V1046M694,1065V1081M688,1042H700M688,1081H700M732,1031V1039M726,1031H738"/>
<path class="md" d="M604,1013H630M644,1008H670M681,1050H707M719,1047H745"/>
<text class="cl2" x="617" y="1108">EC</text><text class="cl2" x="657" y="1108">SC</text><text class="cl2" x="694" y="1108">MC</text><text class="cl2" x="732" y="1108">UC</text>

<!-- E4 -->
<g transform="translate(846,0) scale(.87,1)"><text class="tk">
<tspan x="-4" y="1098">1×10</tspan><tspan class="e" dy="-5">-1</tspan>
<tspan x="-4" y="1080.5">2×10</tspan><tspan class="e" dy="-5">-1</tspan>
<tspan x="-4" y="1063">3×10</tspan><tspan class="e" dy="-5">-1</tspan>
<tspan x="-4" y="1045.5">4×10</tspan><tspan class="e" dy="-5">-1</tspan>
<tspan x="-4" y="1028">5×10</tspan><tspan class="e" dy="-5">-1</tspan>
<tspan x="-4" y="1010.5">6×10</tspan><tspan class="e" dy="-5">-1</tspan>
<tspan x="-4" y="993">7×10</tspan><tspan class="e" dy="-5">-1</tspan>
<tspan x="-4" y="975.5">8×10</tspan><tspan class="e" dy="-5">-1</tspan>
<tspan x="-4" y="958">9×10</tspan><tspan class="e" dy="-5">-1</tspan>
</text></g>
<path class="ax" d="M846,953V1093H1002"/>
<rect class="bE" x="857" y="992" width="26" height="16"/>
<rect class="bS" x="895" y="1063" width="26" height="19"/>
<rect class="bM" x="935" y="1018" width="26" height="22"/>
<rect class="bU" x="975" y="1047" width="26" height="29"/>
<path class="wh" d="M870,985V992M870,1008V1016M864,985H876M864,1016H876M908,1047V1063M908,1082V1084M902,1047H914M902,1084H914M948,1009V1018M948,1040V1053M942,1009H954M942,1053H954M988,1024V1047M988,1076V1082M982,1024H994M982,1082H994"/>
<path class="md" d="M857,999H883M895,1079H921M935,1028H961M975,1069H1001"/>
<path class="br" d="M870,980V977H908V980"/>
<text class="st" x="889" y="978">*</text>
<text class="cl2" x="870" y="1108">ED</text><text class="cl2" x="908" y="1108">SD</text><text class="cl2" x="948" y="1108">MD</text><text class="cl2" x="988" y="1108">UD</text>

<!-- E5 -->
<g transform="translate(1108,0) scale(.87,1)"><text class="tk">
<tspan x="-4" y="1098">0</tspan>
<tspan x="-4" y="1087.8">5×10</tspan><tspan class="e" dy="-5">-2</tspan>
<tspan x="-4" y="1077.6">1×10</tspan><tspan class="e" dy="-5">-1</tspan>
<tspan x="-4" y="1067.4">1.5×10</tspan><tspan class="e" dy="-5">-1</tspan>
<tspan x="-4" y="1057.1">2×10</tspan><tspan class="e" dy="-5">-1</tspan>
<tspan x="-4" y="1046.9">2.5×10</tspan><tspan class="e" dy="-5">-1</tspan>
<tspan x="-4" y="1036.7">3×10</tspan><tspan class="e" dy="-5">-1</tspan>
<tspan x="-4" y="1026.5">3.5×10</tspan><tspan class="e" dy="-5">-1</tspan>
<tspan x="-4" y="1016.3">4×10</tspan><tspan class="e" dy="-5">-1</tspan>
<tspan x="-4" y="1006.1">4.5×10</tspan><tspan class="e" dy="-5">-1</tspan>
<tspan x="-4" y="995.9">5×10</tspan><tspan class="e" dy="-5">-1</tspan>
<tspan x="-4" y="985.6">5.5×10</tspan><tspan class="e" dy="-5">-1</tspan>
<tspan x="-4" y="975.4">6×10</tspan><tspan class="e" dy="-5">-1</tspan>
<tspan x="-4" y="965.2">6.5×10</tspan><tspan class="e" dy="-5">-1</tspan>
<tspan x="-4" y="955">7×10</tspan><tspan class="e" dy="-5">-1</tspan>
</text></g>
<path class="ax" d="M1108,950V1093H1266"/>
<rect class="bE" x="1117" y="1026" width="26" height="52"/>
<rect class="bS" x="1156" y="1033" width="26" height="24"/>
<rect class="bM" x="1195" y="1027" width="26" height="22"/>
<rect class="bU" x="1232" y="1042" width="26" height="31"/>
<path class="wh" d="M1130,974V1026M1124,974H1136M1169,1011V1033M1169,1057V1060M1163,1011H1175M1163,1060H1175M1208,1015V1027M1208,1049V1059M1202,1015H1214M1202,1059H1214M1245,1027V1042M1245,1073V1091M1239,1027H1251M1239,1091H1251"/>
<path class="md" d="M1117,1077H1143M1156,1055H1182M1195,1040H1221M1232,1056H1258"/>
<text class="cl2" x="1130" y="1108">EE</text><text class="cl2" x="1169" y="1108">SE</text><text class="cl2" x="1208" y="1108">ME</text><text class="cl2" x="1245" y="1108">UE</text>

<!-- E6 -->
<g transform="translate(1371,0) scale(.87,1)"><text class="tk">
<tspan x="-4" y="1098">0</tspan>
<tspan x="-4" y="1082.7">5×10</tspan><tspan class="e" dy="-5">-2</tspan>
<tspan x="-4" y="1067.3">1×10</tspan><tspan class="e" dy="-5">-1</tspan>
<tspan x="-4" y="1052">1.5×10</tspan><tspan class="e" dy="-5">-1</tspan>
<tspan x="-4" y="1036.7">2×10</tspan><tspan class="e" dy="-5">-1</tspan>
<tspan x="-4" y="1021.3">2.5×10</tspan><tspan class="e" dy="-5">-1</tspan>
<tspan x="-4" y="1006">3×10</tspan><tspan class="e" dy="-5">-1</tspan>
<tspan x="-4" y="990.7">3.5×10</tspan><tspan class="e" dy="-5">-1</tspan>
<tspan x="-4" y="975.3">4×10</tspan><tspan class="e" dy="-5">-1</tspan>
<tspan x="-4" y="960">4.5×10</tspan><tspan class="e" dy="-5">-1</tspan>
</text></g>
<path class="ax" d="M1371,955V1093H1525"/>
<rect class="bE" x="1376" y="1020" width="26" height="48"/>
<rect class="bS" x="1416" y="1064" width="26" height="25"/>
<rect class="bM" x="1455" y="1064" width="26" height="13"/>
<rect class="bU" x="1497" y="1029" width="26" height="37"/>
<path class="wh" d="M1389,980V1020M1389,1068V1076M1383,980H1395M1383,1076H1395M1429,1041V1064M1423,1041H1435M1423,1091H1435M1468,1055V1064M1468,1077V1080M1462,1055H1474M1462,1080H1474M1510,1001V1029M1510,1066V1074M1504,1001H1516M1504,1074H1516"/>
<path class="md" d="M1376,1060H1402M1416,1088H1442M1455,1073H1481M1497,1057H1523"/>
<text class="cl2" x="1389" y="1108">EF</text><text class="cl2" x="1429" y="1108">SF</text><text class="cl2" x="1468" y="1108">MF</text><text class="cl2" x="1510" y="1108">UF</text>

</svg>
</body></html>
